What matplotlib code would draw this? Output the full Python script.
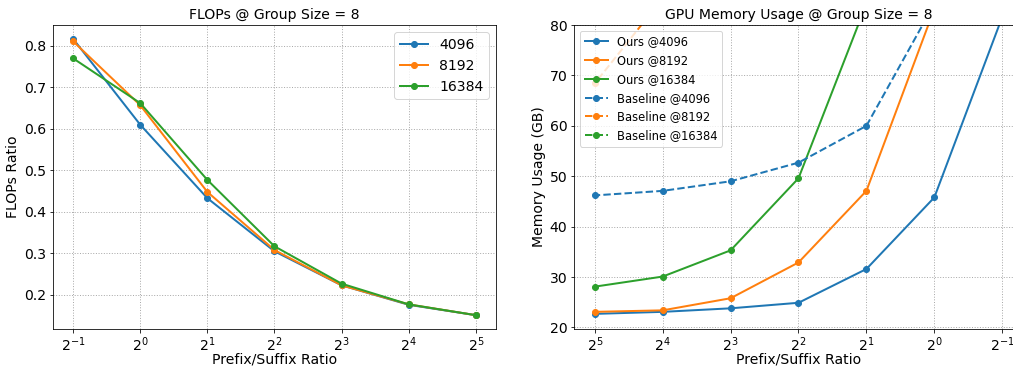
"""
Prefix/Suffix ratio: FLOPs y memoria GPU @ Group Size = 8
"""

import math
import matplotlib
import matplotlib.pyplot as plt
from matplotlib.ticker import FixedLocator, FuncFormatter

matplotlib.use('Agg')

# ==========================================
# DATOS
# ==========================================
ratios = [0.5, 1, 2, 4, 8, 16, 32]
seq_lens = ['4096', '8192', '16384']

flops_4096 = [0.817, 0.610, 0.433, 0.305, 0.223, 0.176, 0.151]
flops_8192 = [0.811, 0.657, 0.448, 0.308, 0.223, 0.177, 0.151]
flops_16384 = [0.770, 0.662, 0.477, 0.317, 0.227, 0.177, 0.151]

ours_4096 = [81.6, 45.8, 31.6, 24.9, 23.8, 23.1, 22.7]
ours_8192 = [150.0, 83.2, 47.1, 32.9, 25.8, 23.4, 23.1]
ours_16384 = [250.0, 160.0, 84.2, 49.6, 35.3, 30.1, 28.1]

base_4096 = [110.0, 84.2, 60.0, 52.7, 49.0, 47.1, 46.2]
base_8192 = [200.0, 150.0, 120.0, 105.0, 95.0, 85.3, 68.4]
base_16384 = [350.0, 280.0, 220.0, 180.0, 150.0, 130.0, 110.0]

colors = ['#1f77b4', '#ff7f0e', '#2ca02c']


def pow2_fmt(v, pos):
    return r'$2^{%d}$' % round(math.log2(v))


def estilo_eje(ax):
    ax.set_xscale('log', base=2)
    ax.xaxis.set_major_locator(FixedLocator(ratios))
    ax.xaxis.set_major_formatter(FuncFormatter(pow2_fmt))
    ax.xaxis.set_minor_locator(FixedLocator([]))
    ax.grid(True, linestyle=':', color='#aaaaaa', linewidth=1.0)
    ax.tick_params(labelsize=14)
    ax.tick_params(axis='x', pad=2.5)
    ax.set_xlabel('Prefix/Suffix Ratio', fontsize=14, labelpad=-1)


# figura a 72 dpi -> 1013x368 px
fig = plt.figure(figsize=(1013 / 72, 368 / 72), dpi=72)

# ==========================================
# GRÁFICO 1: FLOPs
# ==========================================
ax1 = fig.add_axes([0.0523, 0.1060, 0.4373, 0.8260])
for vals, lbl, c in zip([flops_4096, flops_8192, flops_16384], seq_lens, colors):
    ax1.plot(ratios, vals, marker='o', markersize=6, linewidth=2, color=c, label=lbl)
estilo_eje(ax1)
ax1.set_ylabel('FLOPs Ratio', fontsize=14)
ax1.set_title('FLOPs @ Group Size = 8', fontsize=14)
ax1.legend(loc='upper right', fontsize=14)

# ==========================================
# GRÁFICO 2: Memoria GPU
# ==========================================
ax2 = fig.add_axes([0.567, 0.1060, 0.4425, 0.8260])
for vals, lbl, c in zip([ours_4096, ours_8192, ours_16384], seq_lens, colors):
    ax2.plot(ratios, vals, marker='o', markersize=6, linewidth=2, color=c,
             label='Ours @' + lbl)
for vals, lbl, c in zip([base_4096, base_8192, base_16384], seq_lens, colors):
    ax2.plot(ratios, vals, marker='o', markersize=6, linewidth=2, color=c,
             linestyle='--', label='Baseline @' + lbl)
estilo_eje(ax2)
ax2.set_xlim(32 * 2 ** 0.3, 0.5 * 2 ** -0.3)
ax2.set_ylim(19.7, 80)
ax2.set_ylabel('Memory Usage (GB)', fontsize=14)
ax2.set_title('GPU Memory Usage @ Group Size = 8', fontsize=14)
ax2.legend(loc='upper left', fontsize=11.5)

fig.savefig('out.png', dpi=72)
